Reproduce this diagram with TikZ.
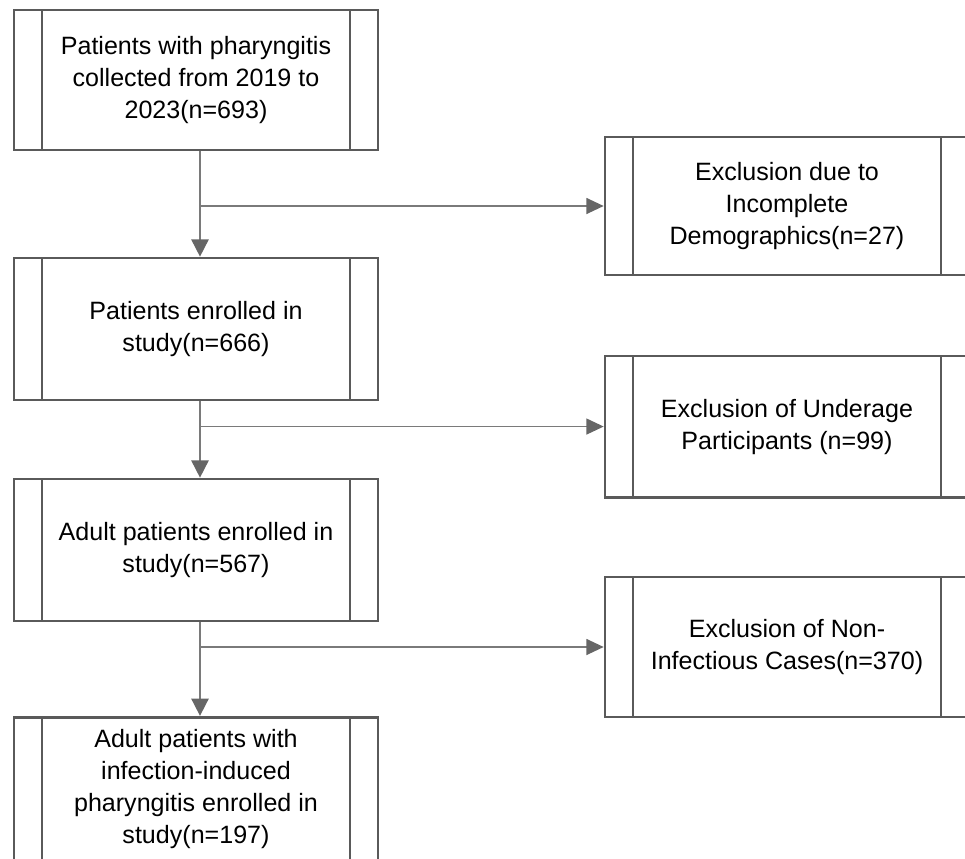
\documentclass[tikz,border=0pt]{standalone}
\usepackage{fontspec}
\setmainfont{Liberation Sans}
\usetikzlibrary{arrows.meta,positioning}
\definecolor{boxgray}{HTML}{5A5A5A}
\definecolor{linegray}{HTML}{7A7A7A}
\definecolor{tipgray}{HTML}{666666}
\tikzset{
  procbox/.style={
    draw=boxgray,
    line width=2pt,
    align=center,
    minimum width=273pt,
    minimum height=105pt,
    inner sep=0pt,
    font=\fontsize{18.8}{24}\selectfont,
    path picture={
      \draw[boxgray, line width=2pt]
        ([xshift=21pt]path picture bounding box.north west) --
        ([xshift=21pt]path picture bounding box.south west)
        ([xshift=-21pt]path picture bounding box.north east) --
        ([xshift=-21pt]path picture bounding box.south east);
    }
  },
  flowarrow/.style={
    draw=linegray,
    line width=1.3pt,
    -{Triangle[length=13pt,width=13pt,fill=tipgray,color=tipgray]}
  },
  branchline/.style={
    draw=linegray,
    line width=1.1pt,
    -{Triangle[length=13pt,width=12pt,fill=tipgray,color=tipgray]}
  }
}

\begin{document}
\begin{tikzpicture}
  \useasboundingbox (0,0) rectangle (723.75pt,-643.5pt);
  \clip (0,0) rectangle (723.75pt,-643.5pt);

  % main column
  \node[procbox] (collected) at (147pt,-60pt)
    {Patients with pharyngitis\\collected from 2019 to\\2023(n=693)};
  \node[procbox, minimum height=106.5pt] (enrolled) at (147pt,-246.75pt)
    {Patients enrolled in\\study(n=666)};
  \node[procbox, minimum height=106.5pt] (adult) at (147pt,-412.5pt)
    {Adult patients enrolled in\\study(n=567)};
  \node[procbox, minimum height=107pt] (infected) at (147pt,-591.4pt)
    {Adult patients with\\infection-induced\\pharyngitis enrolled in\\study(n=197)};

  % exclusions
  \node[procbox, minimum height=103.5pt] (demog) at (590.25pt,-154.5pt)
    {Exclusion due to\\Incomplete\\Demographics(n=27)};
  \node[procbox, minimum height=106pt] (underage) at (590.25pt,-319.9pt)
    {Exclusion of Underage\\Participants (n=99)};
  \node[procbox] (noninf) at (590.25pt,-485.25pt)
    {Exclusion of Non-\\Infectious Cases(n=370)};

  \draw[flowarrow] ([xshift=3pt]collected.south) -- ([xshift=3pt]enrolled.north);
  \draw[flowarrow] ([xshift=3pt]enrolled.south) -- ([xshift=3pt]adult.north);
  \draw[flowarrow] ([xshift=3pt]adult.south) -- ([xshift=3pt]infected.north);
  \draw[branchline] ([xshift=3pt]demog.west -| collected.south) -- (demog.west);
  \draw[branchline] ([xshift=3pt]underage.west -| enrolled.south) -- (underage.west);
  \draw[branchline] ([xshift=3pt]noninf.west -| adult.south) -- (noninf.west);
\end{tikzpicture}
\end{document}
